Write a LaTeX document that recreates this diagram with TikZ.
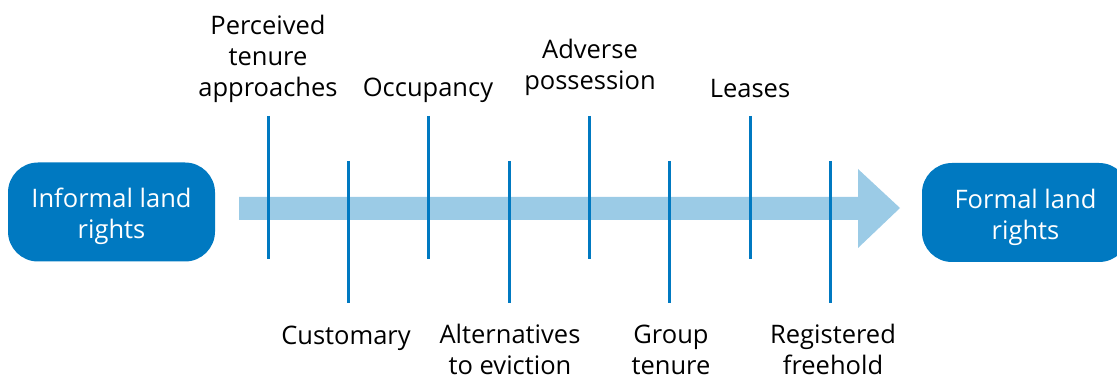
\documentclass[tikz,border=0pt]{standalone}
\usepackage{fontspec}
\setmainfont{Open Sans}
\definecolor{darkblue}{HTML}{0079C1}
\definecolor{lightblue}{HTML}{9BCBE6}
\begin{document}
\begin{tikzpicture}[x=1pt,y=-1pt,
  endbox/.style={fill=darkblue,rounded corners=30pt,minimum width=207pt,minimum height=99pt,inner sep=0pt},
  boxtext/.style={text=white,align=center,inner sep=0pt,anchor=base,font=\fontsize{25.5}{31}\selectfont},
  lbl/.style={align=center,inner sep=0pt,anchor=base,font=\fontsize{25.5}{31}\selectfont},
  tick/.style={draw=darkblue,line width=3pt}]
\useasboundingbox (0,0) rectangle (1117,379);
\begin{scope}
\clip (0,0) rectangle (1117,379);
\node[endbox] (inf) at (111.5,212) {};
\node[endbox] (form) at (1025.5,212.5) {};
\end{scope}
\node[boxtext] (inft) at ([yshift=-27pt]inf.center) {Informal land\\rights};
\node[boxtext] (formt) at ([yshift=-27pt]form.center) {Formal land\\rights};
% main arrow
\fill[lightblue] (239,197) -- (858,197) -- (858,169) -- (900,208) -- (858,248) -- (858,220) -- (239,220) -- cycle;
% ticks
\foreach \x in {268,428,589,750} \draw[tick] (\x,116) -- (\x,259);
\foreach \x in {348,509,669,830} \draw[tick] (\x,161) -- (\x,303);
% labels
\node[lbl] (l1) at (268,97) {Perceived\\tenure\\approaches};
\node[lbl] (l3) at (428,97) {Occupancy};
\node[lbl] (l5) at (590,90) {Adverse\\possession};
\node[lbl] (l7) at (750,98) {Leases};
\node[lbl] (l2) at (346,345) {Customary};
\node[lbl] (l4) at (510,374) {Alternatives\\to eviction};
\node[lbl] (l6) at (671,374) {Group\\tenure};
\node[lbl] (l8) at (833,374) {Registered\\freehold};
\end{tikzpicture}
\end{document}
